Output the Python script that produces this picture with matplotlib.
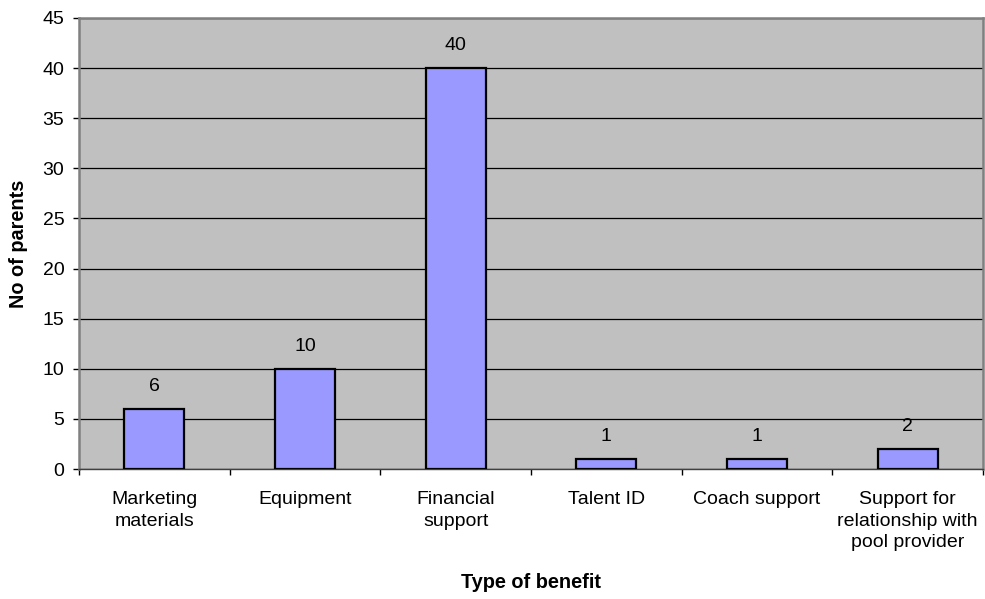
import matplotlib
matplotlib.use("Agg")
import matplotlib.pyplot as plt
import numpy as np

plt.rcParams["font.family"] = ["Liberation Sans", "DejaVu Sans"]

categories = [
    "Marketing\nmaterials",
    "Equipment",
    "Financial\nsupport",
    "Talent ID",
    "Coach support",
    "Support for\nrelationship with\npool provider",
]
parents = [6, 10, 40, 1, 1, 2]
y_ticks = [0, 5, 10, 15, 20, 25, 30, 35, 40, 45]

fig = plt.figure(figsize=(9.85, 5.99), dpi=100)
ax = fig.add_axes([79 / 985, 1 - 469 / 599, 904 / 985, 451 / 599])
ax.set_facecolor("#C0C0C0")

x = np.arange(len(categories))
ax.bar(x, parents, width=0.4, color="#9999FF", edgecolor="black", linewidth=1.6, zorder=3)
for xi, v in zip(x, parents):
    ax.text(xi, v + 2.25, str(v), ha="center", va="center", fontsize=14, zorder=4)

ax.set_xlim(-0.5, len(categories) - 0.5)
ax.set_ylim(0, 45)
ax.set_yticks(y_ticks)
ax.tick_params(axis="y", labelsize=14, length=4.5, width=1, color="black", pad=6)
ax.yaxis.grid(True, color="black", linewidth=0.9, zorder=1)
ax.set_axisbelow(True)

# category labels sit between the tick marks that separate categories
ax.set_xticks(np.arange(len(categories) + 1) - 0.5)
ax.set_xticklabels([])
ax.set_xticks(x, minor=True)
ax.set_xticklabels(categories, minor=True, fontsize=14, linespacing=1.33)
ax.tick_params(axis="x", which="major", length=4.5, width=1, color="black")
ax.tick_params(axis="x", which="minor", length=0, pad=16)

for side in ["top", "right", "left"]:
    ax.spines[side].set_color("#808080")
    ax.spines[side].set_linewidth(1.8)
ax.spines["bottom"].set_color("#404040")
ax.spines["bottom"].set_linewidth(1)

ax.set_xlabel("Type of benefit", fontsize=14.3, fontweight="bold")
ax.xaxis.set_label_coords(0.5, -(583 - 469) / 451)
ax.xaxis.label.set_va("center")
ax.set_ylabel("No of parents", fontsize=14.3, fontweight="bold")
ax.yaxis.set_label_coords((18 - 79) / 904, 0.5)
ax.yaxis.label.set_va("center")

fig.savefig("out.png", dpi=100)
